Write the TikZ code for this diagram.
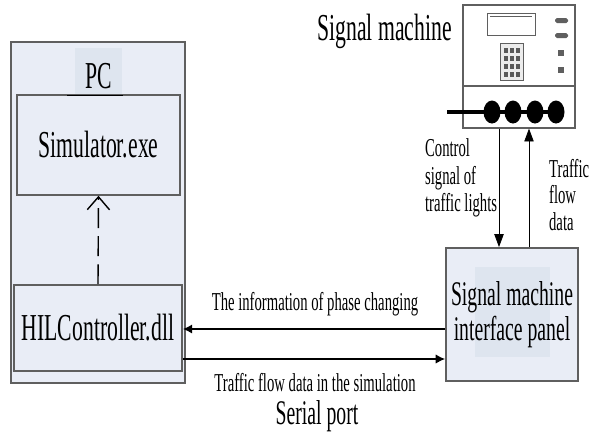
\documentclass[tikz,border=0pt]{standalone}
\usepackage{fontspec}
\setmainfont{Liberation Serif}[FakeStretch=0.57]
\usetikzlibrary{arrows.meta,positioning,calc}

\definecolor{boxfill}{RGB}{233,237,246}
\definecolor{tabfill}{RGB}{222,229,239}
\definecolor{boxline}{RGB}{95,95,95}

\begin{document}
\begin{tikzpicture}[
    x=0.03cm, y=-0.03cm,
    bigfont/.style={font=\fontsize{32.5}{30}\selectfont},
    midfont/.style={font=\fontsize{29.5}{30}\selectfont},
    smallfont/.style={font=\fontsize{22}{22}\selectfont},
    box/.style={draw=boxline, line width=1.3pt, fill=boxfill, inner sep=0pt},
    busarrow/.style={-{Latex[length=8pt,width=8pt]}, line width=1.5pt},
    sigarrow/.style={-{Triangle[length=11pt,width=8pt]}, line width=0.7pt},
    callarrow/.style={-{Straight Barb[length=11pt,width=19pt]}, line width=1.2pt, dash pattern=on 17pt off 7pt}
]
\useasboundingbox (0,0) rectangle (590,437);

% PC side
\node[box, minimum width=5.22cm, minimum height=10.23cm] (pc) at (98,212.5) {};
\node[fill=tabfill, minimum width=1.41cm, minimum height=1.44cm, inner sep=0pt] (pctab) at (98.5,72) {};
\node[bigfont] (pclabel) at (98.5,76) {PC};
\node[box, minimum width=4.89cm, minimum height=3cm, bigfont] (sim) at (98.5,145) {Simulator.exe};
\draw[line width=1.5pt] (67,95.5) -- (123,95.5);
\node[box, minimum width=5.04cm, minimum height=2.58cm, bigfont] (hil) at (98,328) {HILController.dll};
\draw[callarrow] (hil.north) -- (sim.south);

% signal machine
\node[draw=boxline, line width=1pt, fill=white, minimum width=3.36cm, minimum height=3.69cm] (machine) at (519,66.5) {};
\draw[boxline, line width=1pt] (machine.west |- 0,86) -- (machine.east |- 0,86);
\draw[boxline, line width=0.8pt] (487,13) rectangle (535,35);
\draw[boxline, line width=0.6pt] (490,16) -- (532,16);
\draw[boxline, line width=0.8pt, fill=gray!15] (500,43) rectangle (523,80);
\foreach \i in {0,1,2}
  \foreach \j in {0,1,2,3}
    \fill[gray!70!black] (504+\i*6,48+\j*8) rectangle ++(4,5);
\foreach \yy in {18,33}
  \fill[boxline, rounded corners=1.5pt] (555,\yy) rectangle ++(13,5);
\foreach \yy in {50,67}
  \fill[boxline] (558,\yy) rectangle ++(6,6);
\draw[line width=3.5pt] (447,112) -- (556,112);
\foreach \xx in {492,513,535,556}
  \fill (\xx,112) ellipse [x radius=8.5, y radius=11.5];
\node[bigfont, anchor=east] (machlabel) at (456,31) {Signal machine};

% interface panel
\node[box, line width=1.6pt, minimum width=3.96cm, minimum height=3.99cm] (iface) at (512,314.5) {};
\fill[tabfill] (475,267) rectangle (550,357);
\node[align=center, midfont] (ifacelabel) at (iface.center) {Signal machine\\interface panel};

% control lines
\coordinate (ctrlx) at (499,0);
\coordinate (flowx) at (529,0);
\draw[sigarrow] (machine.south -| ctrlx) -- (iface.north -| ctrlx);
\draw[sigarrow] (iface.north -| flowx) -- (machine.south -| flowx);
\node[align=left, anchor=west, font=\fontsize{22}{23.5}\selectfont] (ctrllabel) at (421,178) {Control\\signal of\\traffic lights};
\node[align=left, anchor=west, font=\fontsize{22}{22.5}\selectfont] (flowlabel) at (545,195) {Traffic\\flow\\data};

% serial port
\coordinate (phasey) at (0,329);
\coordinate (simy) at (0,359);
\draw[busarrow] (iface.west |- phasey) -- (hil.east |- phasey);
\draw[busarrow, line width=1.1pt] (hil.east |- simy) -- (iface.west |- simy);
\node[smallfont] (phaselabel) at (315,304) {The information of phase changing};
\node[smallfont] (simlabel) at (315,383) {Traffic flow data in the simulation};
\node[midfont] (portlabel) at (317,416) {Serial port};

\end{tikzpicture}
\end{document}
